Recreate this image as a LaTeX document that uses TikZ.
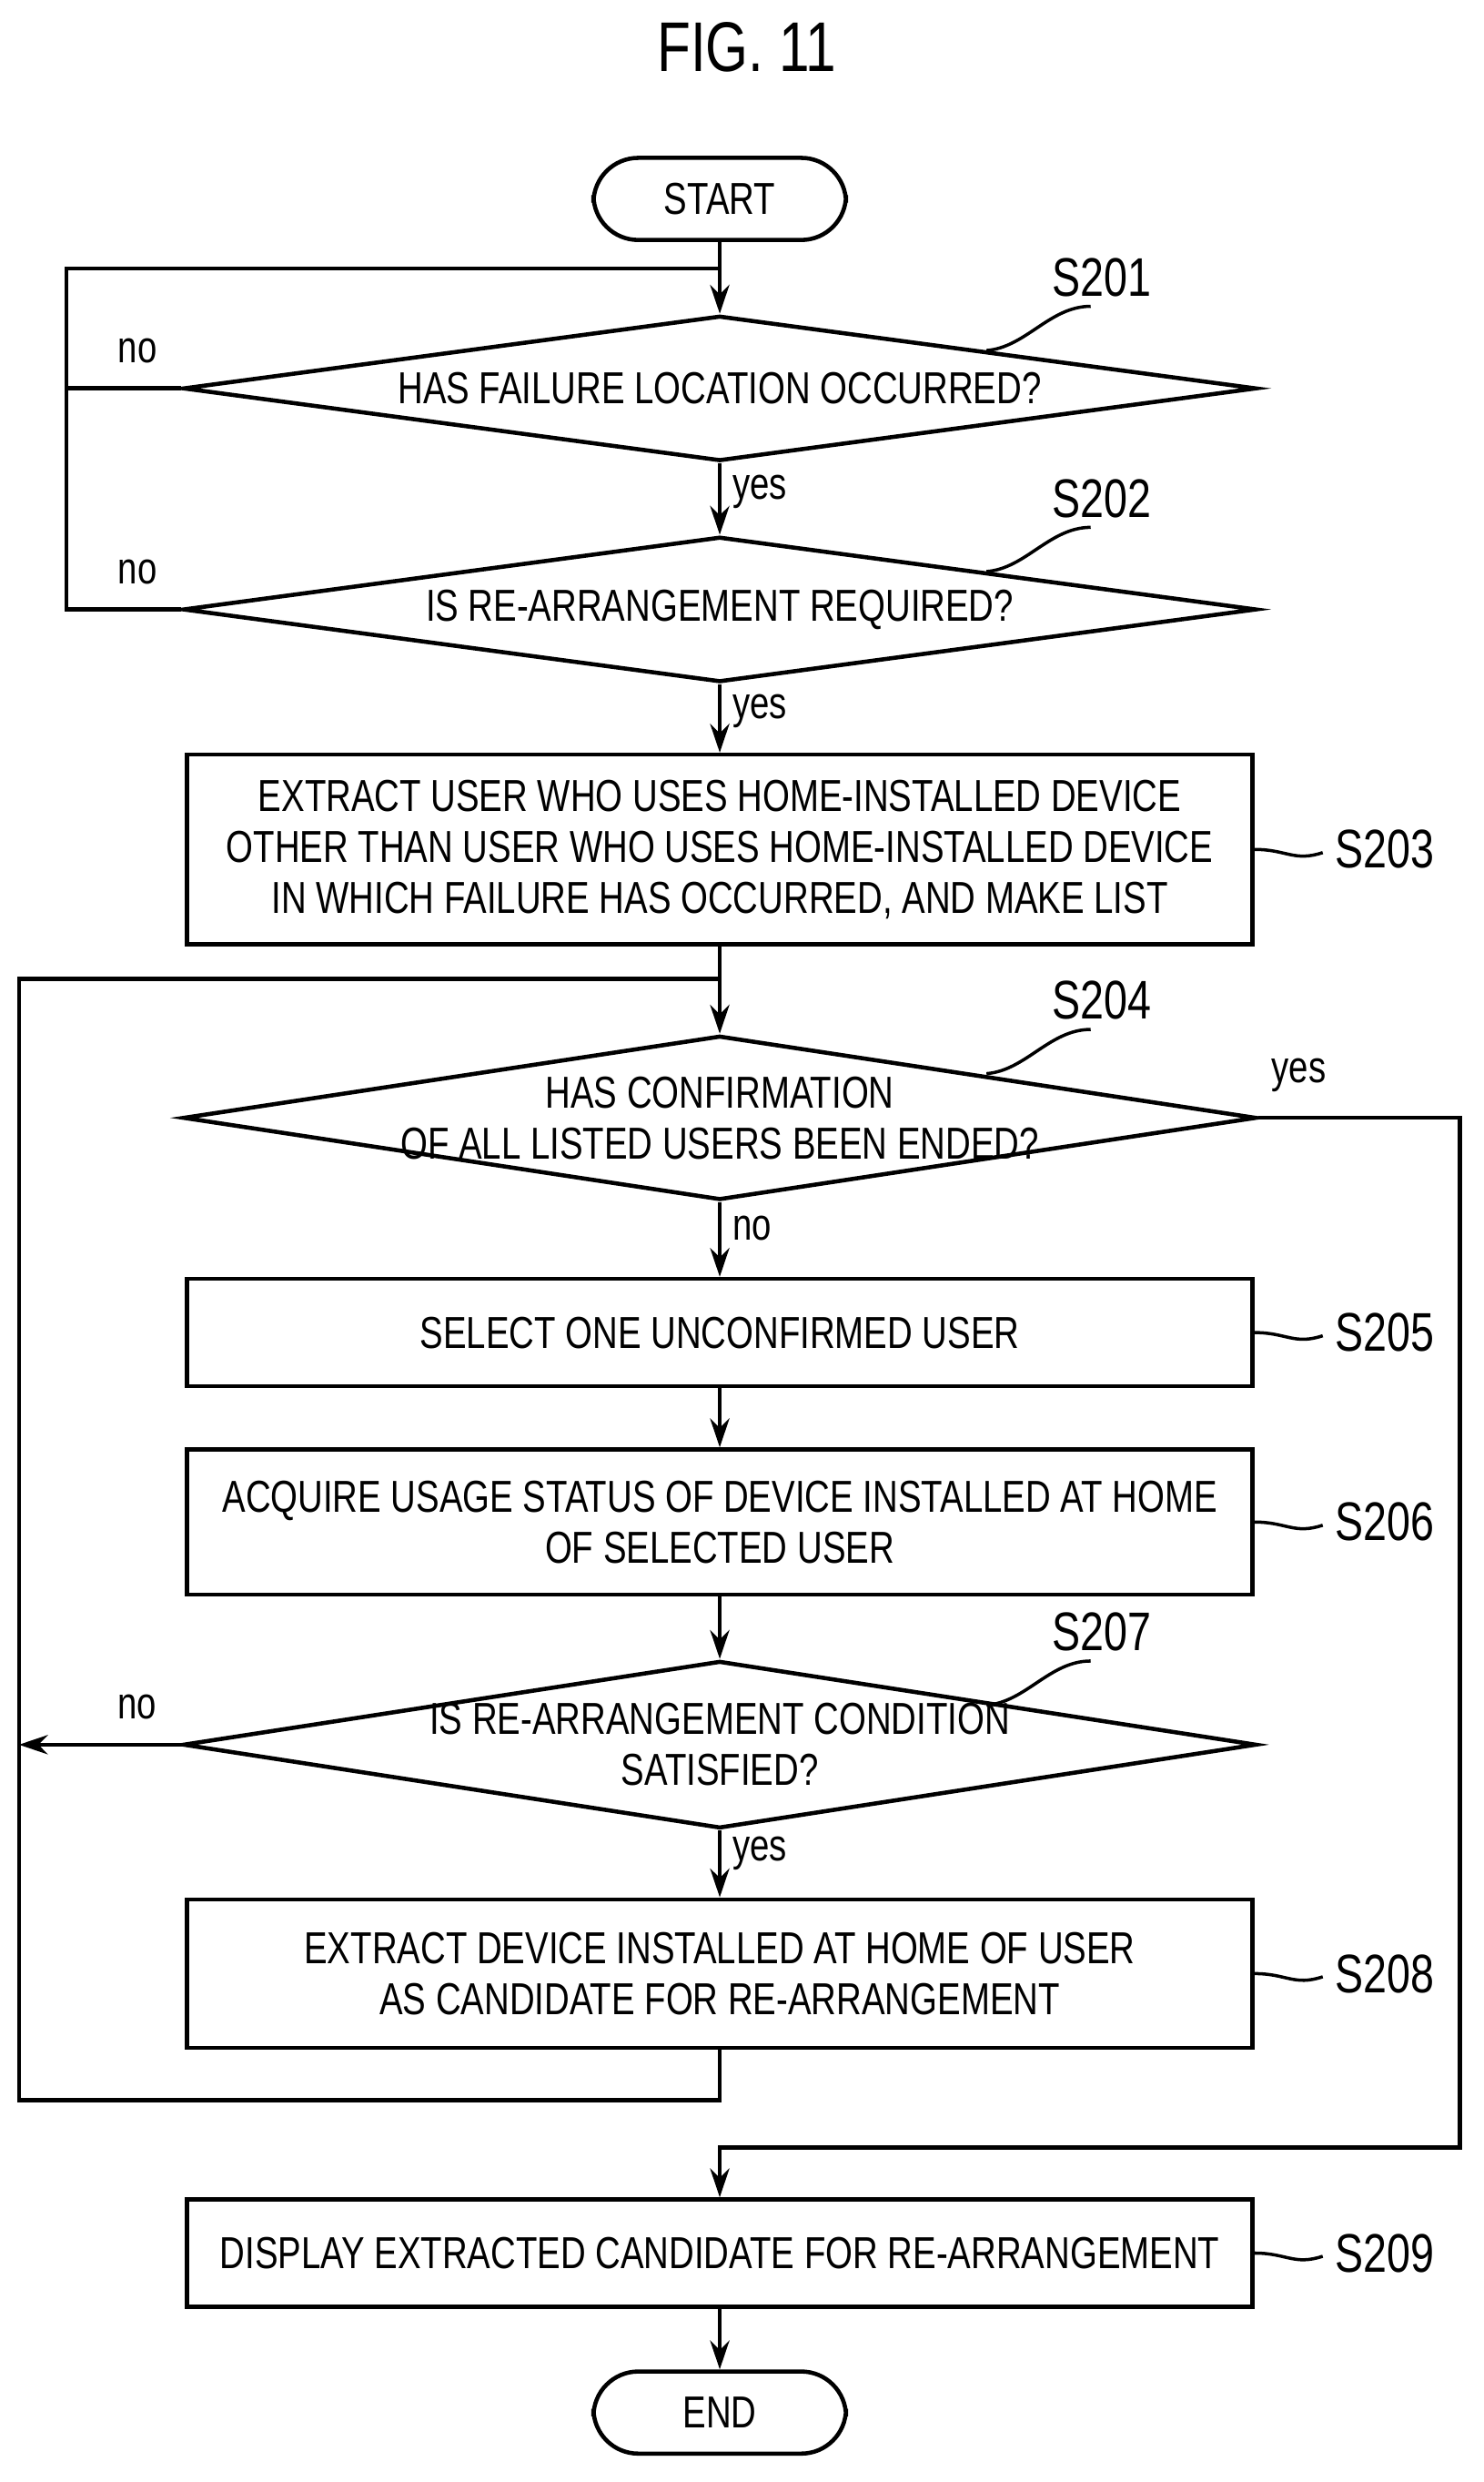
\documentclass[tikz,border=0pt]{standalone}
\usepackage{fontspec}
\setmainfont{Liberation Sans}[FakeStretch=0.78]
\usetikzlibrary{shapes, arrows.meta, positioning, calc}
\begin{document}
\begin{tikzpicture}[
        x=0.01735cm, y=-0.01735cm,
        font=\fontsize{14}{16}\selectfont,
        every path/.style={line width=1.3pt},
        >={Stealth[length=9pt,width=6pt]},
        terminal/.style={
            rectangle,
            draw,
            rounded corners=14pt,
            minimum width=160*0.01735cm,
            minimum height=52*0.01735cm
        },
        process/.style={
            rectangle,
            draw,
            inner sep=0pt,
            minimum width=675*0.01735cm,
            align=center
        },
        decision/.style={
            diamond,
            draw,
            inner sep=0pt,
            minimum width=680*0.01735cm
        },
        tag/.style={font=\fontsize{17}{20}\selectfont}
    ]
        \useasboundingbox (0,0) rectangle (940,1572);
        \node[font=\fontsize{22}{26}\selectfont] (title) at (473,30) {FIG. 11};

        % States
        \node[terminal] (start) at (456,126) {START};
        \node[decision, minimum height=92*0.01735cm, label={center:HAS FAILURE LOCATION OCCURRED?}] (s201) at (456,246) {};
        \node[decision, minimum height=92*0.01735cm, label={center:IS RE-ARRANGEMENT REQUIRED?}] (s202) at (456,386) {};
        \node[process, minimum height=120*0.01735cm] (s203) at (456,538) {EXTRACT USER WHO USES HOME-INSTALLED DEVICE\\OTHER THAN USER WHO USES HOME-INSTALLED DEVICE\\IN WHICH FAILURE HAS OCCURRED, AND MAKE LIST};
        \node[decision, minimum height=104*0.01735cm, label={[align=center]center:HAS CONFIRMATION\\OF ALL LISTED USERS BEEN ENDED?}] (s204) at (456,708) {};
        \node[process, minimum height=68*0.01735cm] (s205) at (456,844) {SELECT ONE UNCONFIRMED USER};
        \node[process, minimum height=92*0.01735cm] (s206) at (456,964) {ACQUIRE USAGE STATUS OF DEVICE INSTALLED AT HOME\\OF SELECTED USER};
        \node[decision, minimum height=106*0.01735cm, label={[align=center]center:IS RE-ARRANGEMENT CONDITION\\SATISFIED?}] (s207) at (456,1105) {};
        \node[process, minimum height=94*0.01735cm] (s208) at (456,1250) {EXTRACT DEVICE INSTALLED AT HOME OF USER\\AS CANDIDATE FOR RE-ARRANGEMENT};
        \node[process, minimum height=68*0.01735cm] (s209) at (456,1427) {DISPLAY EXTRACTED CANDIDATE FOR RE-ARRANGEMENT};
        \node[terminal] (end) at (456,1528) {END};

        % Helper points
        \coordinate (top201) at (456,170);
        \coordinate (top204) at (456,620);
        \coordinate (top209) at (456,1360);

        % Transitions
        \draw[->] (start) -- (s201);
        \draw[->] (s201) -- node[right, pos=0.4] {yes} (s202);
        \draw[->] (s202) -- node[right, pos=0.4] {yes} (s203);
        \draw (s201.west) -- node[above=4pt, pos=0.38] {no} (42,246) -- (42,170) -- (top201);
        \draw (s202.west) -- node[above=4pt, pos=0.38] {no} (42,386) -- (42,246);
        \draw[->] (s203) -- (s204);
        \draw[->] (s204) -- node[right, pos=0.35] {no} (s205);
        \draw[->] (s205) -- (s206);
        \draw[->] (s206) -- (s207);
        \draw[->] (s207) -- node[right, pos=0.35] {yes} (s208);
        \draw[->] (s207.west) -- node[above=4pt, pos=0.27] {no} (12,1105);
        \draw (s208) -- (456,1330) -- (12,1330) -- (12,620) -- (top204);
        \draw[->] (s204.east) -- node[above=4pt, pos=0.2] {yes} (925,708) -- (925,1360) -- (top209) -- (s209);
        \draw[->] (s209) -- (end);

        % Step tags
        \foreach \d/\x/\y in {S201/625/222, S202/625/362, S204/625/680, S207/625/1080} {
            \draw[line width=1pt] (\x,\y) .. controls (\x+25,\y-2) and (\x+40,\y-28) .. (\x+66,\y-28);
            \node[tag, anchor=south] (\d) at (\x+73,\y-26) {\d};
        }
        \foreach \d/\y in {S203/538, S205/844, S206/964, S208/1250, S209/1427} {
            \draw[line width=1pt] (795,\y) .. controls (815,\y) and (820,\y+8) .. (838,\y+2);
            \node[tag, anchor=west] (\d) at (838,\y) {\d};
        }
    \end{tikzpicture}
\end{document}
